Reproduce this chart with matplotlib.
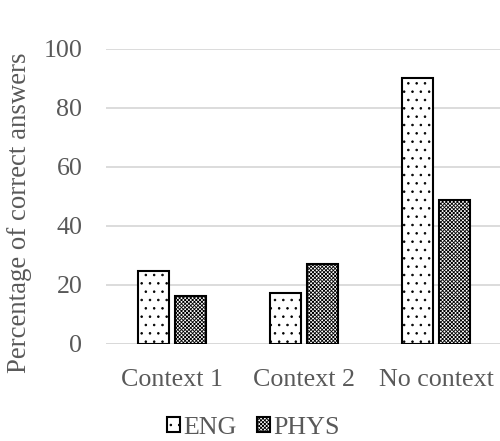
import numpy as np
import matplotlib.pyplot as plt

categories = ['Context 1', 'Context 2', 'No context']
eng = [24.7, 17.4, 90.3]
phys = [16.3, 27.1, 48.7]
yticks = [0, 20, 40, 60, 80, 100]

plt.rcParams['font.family'] = ['Liberation Serif', 'DejaVu Serif']
plt.rcParams['hatch.linewidth'] = 0.6
grey = '#595959'
fs = 18.7

fig = plt.figure(figsize=(5, 4.41), dpi=100)
ax = fig.add_axes([0.212, 0.22, 0.792, 0.669])

x = np.arange(len(categories))
w = 0.231
gap = 0.053
ax.bar(x - (w + gap) / 2, eng, w, facecolor='white', edgecolor='black',
       lw=1.5, hatch='..', label='ENG', zorder=3)
ax.bar(x + (w + gap) / 2, phys, w, facecolor='white', edgecolor='black',
       lw=1.5, hatch='xxxxxxxxx', label='PHYS', zorder=3)

ax.set_xlim(-0.5, 2.5)
ax.set_ylim(0, 100)
ax.set_yticks(yticks)
ax.set_xticks(x)
ax.set_xticklabels(categories)
ax.tick_params(length=0, labelsize=fs, colors=grey)
ax.tick_params(axis='x', pad=18)
ax.tick_params(axis='y', pad=17)
ax.grid(axis='y', color='#d9d9d9', lw=1.3, zorder=0)
for s in ax.spines.values():
    s.set_visible(False)
ax.axhline(0, color='#d9d9d9', lw=1.3, zorder=1)

ax.set_ylabel('Percentage of correct answers', fontsize=19.3, color=grey, labelpad=8)
ax.yaxis.label.set_y(0.445)

fig.legend(loc='center', bbox_to_anchor=(0.507, 0.0295), ncol=2, frameon=False,
           fontsize=fs, handlelength=0.5, handleheight=0.5, handletextpad=0.12,
           columnspacing=0.77, labelcolor=grey, borderpad=0)

plt.savefig('out.png')
